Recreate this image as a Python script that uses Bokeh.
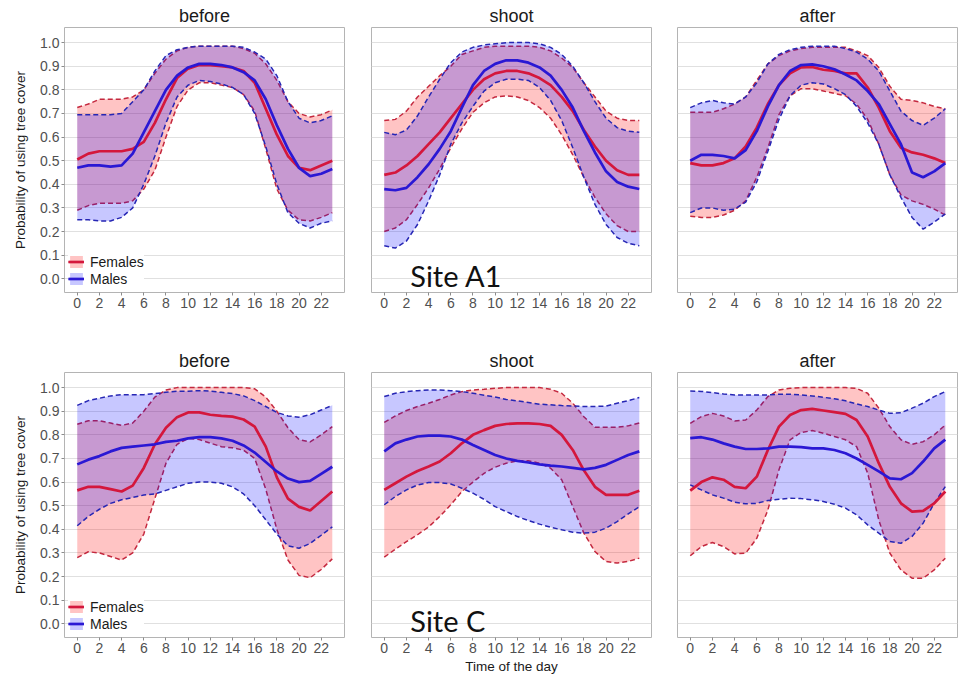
from bokeh.plotting import figure
from bokeh.layouts import column, row
from bokeh.models import Range1d, FixedTicker, PrintfTickFormatter, Legend, LegendItem, Label
from bokeh.embed import file_html
from bokeh.resources import INLINE

HOURS = list(range(24))
X_TICKS = list(range(0, 23, 2))
Y_TICKS = [0.0, 0.1, 0.2, 0.3, 0.4, 0.5, 0.6, 0.7, 0.8, 0.9, 1.0]
PERIODS = ["before", "shoot", "after"]
SITES = ["Site A1", "Site C"]
GROUPS = ["Females", "Males"]

# ---- Site A1 : before ----
A1_BEFORE_F = [0.505,0.53,0.54,0.54,0.54,0.55,0.58,0.66,0.76,0.85,0.89,0.905,0.905,0.90,0.895,0.88,0.83,0.72,0.61,0.52,0.47,0.46,0.48,0.50]
A1_BEFORE_F_LO = [0.29,0.31,0.32,0.32,0.32,0.33,0.38,0.46,0.60,0.73,0.80,0.83,0.83,0.82,0.81,0.78,0.71,0.55,0.38,0.29,0.25,0.245,0.26,0.28]
A1_BEFORE_F_HI = [0.725,0.74,0.76,0.76,0.76,0.77,0.80,0.87,0.93,0.965,0.98,0.985,0.985,0.985,0.985,0.975,0.955,0.91,0.84,0.75,0.70,0.685,0.695,0.715]
A1_BEFORE_M = [0.47,0.48,0.48,0.475,0.48,0.53,0.62,0.71,0.80,0.86,0.895,0.91,0.91,0.905,0.895,0.875,0.84,0.76,0.65,0.55,0.47,0.435,0.445,0.465]
A1_BEFORE_M_LO = [0.25,0.25,0.245,0.245,0.26,0.30,0.40,0.52,0.66,0.77,0.82,0.84,0.835,0.825,0.81,0.78,0.70,0.56,0.40,0.28,0.235,0.215,0.235,0.245]
A1_BEFORE_M_HI = [0.695,0.695,0.695,0.695,0.70,0.75,0.80,0.88,0.945,0.97,0.98,0.985,0.985,0.985,0.985,0.98,0.96,0.93,0.86,0.75,0.68,0.66,0.67,0.69]

# ---- Site A1 : shoot ----
A1_SHOOT_F = [0.44,0.45,0.48,0.52,0.57,0.62,0.68,0.74,0.80,0.845,0.87,0.88,0.88,0.87,0.85,0.82,0.77,0.71,0.63,0.56,0.50,0.46,0.44,0.44]
A1_SHOOT_F_LO = [0.20,0.215,0.25,0.315,0.385,0.465,0.555,0.635,0.705,0.745,0.77,0.775,0.77,0.755,0.725,0.68,0.61,0.525,0.43,0.345,0.275,0.225,0.20,0.20]
A1_SHOOT_F_HI = [0.67,0.675,0.71,0.77,0.815,0.86,0.90,0.95,0.965,0.98,0.985,0.985,0.985,0.985,0.98,0.965,0.935,0.895,0.83,0.77,0.71,0.68,0.67,0.67]
A1_SHOOT_M = [0.38,0.375,0.385,0.43,0.485,0.55,0.625,0.725,0.82,0.88,0.91,0.925,0.925,0.915,0.895,0.86,0.80,0.725,0.625,0.535,0.455,0.41,0.39,0.38]
A1_SHOOT_M_LO = [0.14,0.13,0.16,0.23,0.33,0.44,0.57,0.66,0.73,0.795,0.83,0.845,0.845,0.84,0.81,0.755,0.67,0.555,0.43,0.315,0.23,0.175,0.15,0.14]
A1_SHOOT_M_HI = [0.62,0.61,0.63,0.69,0.77,0.845,0.915,0.96,0.98,0.99,0.995,1.0,1.0,1.0,0.995,0.98,0.95,0.90,0.83,0.75,0.68,0.64,0.625,0.62]

# ---- Site A1 : after ----
A1_AFTER_F = [0.49,0.48,0.48,0.49,0.51,0.56,0.64,0.74,0.82,0.87,0.895,0.897,0.885,0.88,0.87,0.87,0.81,0.725,0.625,0.555,0.535,0.525,0.51,0.49]
A1_AFTER_F_LO = [0.265,0.26,0.26,0.27,0.29,0.33,0.43,0.555,0.695,0.775,0.805,0.805,0.795,0.785,0.775,0.74,0.675,0.57,0.44,0.355,0.33,0.315,0.295,0.27]
A1_AFTER_F_HI = [0.705,0.705,0.705,0.72,0.74,0.77,0.84,0.91,0.945,0.965,0.975,0.98,0.98,0.98,0.98,0.965,0.945,0.895,0.815,0.76,0.755,0.745,0.73,0.72]
A1_AFTER_M = [0.50,0.525,0.525,0.52,0.51,0.545,0.625,0.73,0.82,0.88,0.905,0.908,0.90,0.887,0.865,0.84,0.795,0.74,0.655,0.57,0.45,0.43,0.455,0.49]
A1_AFTER_M_LO = [0.28,0.30,0.30,0.29,0.295,0.325,0.41,0.54,0.675,0.775,0.82,0.83,0.825,0.805,0.78,0.73,0.66,0.57,0.44,0.345,0.26,0.21,0.24,0.275]
A1_AFTER_M_HI = [0.725,0.745,0.755,0.745,0.74,0.77,0.83,0.91,0.95,0.97,0.98,0.985,0.985,0.985,0.975,0.96,0.93,0.88,0.795,0.71,0.67,0.65,0.68,0.72]

# ---- Site C : before ----
C_BEFORE_F = [0.565,0.58,0.58,0.57,0.56,0.585,0.66,0.76,0.83,0.875,0.895,0.895,0.885,0.88,0.877,0.865,0.835,0.75,0.62,0.53,0.495,0.48,0.52,0.56]
C_BEFORE_F_LO = [0.28,0.305,0.30,0.285,0.27,0.30,0.38,0.53,0.68,0.76,0.785,0.78,0.765,0.75,0.745,0.735,0.70,0.57,0.40,0.27,0.205,0.195,0.23,0.275]
C_BEFORE_F_HI = [0.845,0.86,0.86,0.85,0.84,0.85,0.90,0.96,0.99,1.0,1.0,1.0,1.0,1.0,1.0,1.0,0.995,0.96,0.90,0.83,0.78,0.77,0.80,0.835]
C_BEFORE_M = [0.675,0.695,0.71,0.73,0.745,0.75,0.755,0.76,0.77,0.775,0.785,0.79,0.79,0.785,0.775,0.755,0.725,0.685,0.645,0.615,0.60,0.605,0.635,0.665]
C_BEFORE_M_LO = [0.415,0.455,0.485,0.51,0.525,0.535,0.545,0.55,0.565,0.58,0.595,0.60,0.60,0.595,0.58,0.55,0.50,0.44,0.38,0.33,0.32,0.34,0.375,0.41]
C_BEFORE_M_HI = [0.925,0.945,0.955,0.965,0.97,0.97,0.97,0.975,0.98,0.985,0.985,0.987,0.985,0.98,0.975,0.965,0.945,0.92,0.895,0.88,0.875,0.885,0.905,0.925]

# ---- Site C : shoot ----
C_SHOOT_F = [0.567,0.595,0.623,0.647,0.666,0.687,0.722,0.764,0.80,0.82,0.838,0.846,0.849,0.849,0.846,0.838,0.80,0.736,0.65,0.58,0.546,0.546,0.546,0.563]
C_SHOOT_F_LO = [0.282,0.316,0.348,0.377,0.41,0.454,0.504,0.56,0.60,0.637,0.663,0.68,0.69,0.69,0.68,0.659,0.61,0.496,0.384,0.306,0.264,0.257,0.264,0.278]
C_SHOOT_F_HI = [0.853,0.88,0.903,0.92,0.934,0.95,0.969,0.983,0.99,0.993,0.997,1.0,1.0,1.0,1.0,0.993,0.976,0.934,0.877,0.832,0.832,0.832,0.838,0.85]
C_SHOOT_M = [0.73,0.764,0.78,0.793,0.797,0.797,0.793,0.78,0.757,0.736,0.715,0.70,0.69,0.683,0.675,0.67,0.666,0.66,0.654,0.66,0.673,0.694,0.715,0.73]
C_SHOOT_M_LO = [0.504,0.539,0.567,0.588,0.598,0.598,0.592,0.574,0.553,0.527,0.496,0.475,0.454,0.437,0.422,0.409,0.398,0.388,0.384,0.388,0.405,0.433,0.465,0.496]
C_SHOOT_M_HI = [0.962,0.976,0.983,0.987,0.99,0.99,0.987,0.983,0.976,0.968,0.96,0.95,0.944,0.937,0.93,0.927,0.924,0.922,0.92,0.92,0.922,0.934,0.945,0.958]

# ---- Site C : after ----
C_AFTER_F = [0.564,0.60,0.62,0.61,0.58,0.574,0.623,0.736,0.835,0.884,0.905,0.91,0.903,0.896,0.889,0.863,0.793,0.68,0.58,0.51,0.475,0.478,0.51,0.56]
C_AFTER_F_LO = [0.288,0.327,0.344,0.327,0.296,0.299,0.362,0.482,0.652,0.779,0.81,0.818,0.807,0.793,0.779,0.75,0.638,0.44,0.299,0.228,0.193,0.193,0.228,0.278]
C_AFTER_F_HI = [0.849,0.877,0.891,0.88,0.859,0.863,0.905,0.962,0.99,0.997,1.0,1.0,1.0,1.0,1.0,0.997,0.976,0.913,0.835,0.779,0.76,0.771,0.80,0.842]
C_AFTER_M = [0.786,0.79,0.78,0.764,0.75,0.74,0.74,0.743,0.75,0.75,0.748,0.743,0.743,0.736,0.722,0.70,0.673,0.645,0.616,0.612,0.638,0.687,0.743,0.78]
C_AFTER_M_LO = [0.588,0.567,0.546,0.532,0.515,0.508,0.51,0.522,0.527,0.532,0.53,0.525,0.518,0.506,0.49,0.461,0.419,0.384,0.348,0.341,0.37,0.426,0.51,0.581]
C_AFTER_M_HI = [0.986,0.984,0.979,0.973,0.969,0.969,0.969,0.969,0.972,0.972,0.969,0.965,0.959,0.953,0.944,0.931,0.92,0.905,0.891,0.894,0.913,0.934,0.962,0.983]

FONT = "Liberation Sans"
F_LINE = "#d4173c"
M_LINE = "#2a18d4"
F_DASH = "#c4283e"
M_DASH = "#2626b4"
F_FILL = "#ff0000"
M_FILL = "#0000ff"


def panel(title, f, f_lo, f_hi, m, m_lo, m_hi, left, right, top, bottom,
          first=False, xlabel=None, site=None):
    p = figure(frame_width=280, frame_height=265,
               min_border_left=left, min_border_right=right,
               min_border_top=top, min_border_bottom=bottom,
               x_range=Range1d(-1.15, 24.1), y_range=Range1d(-0.058, 1.064),
               output_backend="svg", toolbar_location=None, title=title)
    p.title.align = "center"
    p.title.text_font = FONT
    p.title.text_font_size = "18px"
    p.title.text_font_style = "normal"
    p.title.text_color = "#1a1a1a"
    p.title.standoff = 3
    p.outline_line_color = "#b4b4b4"
    p.background_fill_color = "white"
    p.border_fill_color = "white"
    p.xgrid.visible = False
    p.ygrid.ticker = FixedTicker(ticks=Y_TICKS)
    p.ygrid.grid_line_color = "#e0e0e0"
    p.ygrid.grid_line_width = 1

    for ax in (p.xaxis, p.yaxis):
        ax.axis_line_color = None
        ax.major_tick_line_color = "#8c8c8c"
        ax.major_tick_out = 3
        ax.major_tick_in = 0
        ax.minor_tick_line_color = None
        ax.major_label_text_font = FONT
        ax.major_label_text_font_size = "14px"
        ax.major_label_text_color = "#505050"
        ax.major_label_standoff = 2
    p.xaxis.ticker = FixedTicker(ticks=X_TICKS)
    p.yaxis.ticker = FixedTicker(ticks=Y_TICKS)
    p.yaxis.formatter = PrintfTickFormatter(format="%.1f")

    fa = p.varea(x=HOURS, y1=f_lo, y2=f_hi, fill_color=F_FILL, fill_alpha=0.23)
    fl = p.line(HOURS, f_lo, line_color=F_DASH, line_width=1.5, line_dash="5 3")
    fh = p.line(HOURS, f_hi, line_color=F_DASH, line_width=1.5, line_dash="5 3")
    ma = p.varea(x=HOURS, y1=m_lo, y2=m_hi, fill_color=M_FILL, fill_alpha=0.22)
    ml = p.line(HOURS, m_lo, line_color=M_DASH, line_width=1.5, line_dash="5 3")
    mh = p.line(HOURS, m_hi, line_color=M_DASH, line_width=1.5, line_dash="5 3")
    fm = p.line(HOURS, f, line_color=F_LINE, line_width=2.7)
    mm = p.line(HOURS, m, line_color=M_LINE, line_width=2.7)

    if first:
        p.yaxis.axis_label = "Probability of using tree cover"
        p.yaxis.axis_label_text_font = FONT
        p.yaxis.axis_label_text_font_size = "13.5px"
        p.yaxis.axis_label_text_font_style = "normal"
        p.yaxis.axis_label_text_color = "#1a1a1a"
        p.yaxis.axis_label_standoff = 9
        legend = Legend(items=[
            LegendItem(label=GROUPS[0], renderers=[fa, fl, fm]),
            LegendItem(label=GROUPS[1], renderers=[ma, ml, mm]),
        ], location=(4, 5))
        legend.background_fill_color = "white"
        legend.background_fill_alpha = 1.0
        legend.border_line_color = None
        legend.padding = 4
        legend.margin = 0
        legend.spacing = 0
        legend.label_text_font = FONT
        legend.label_text_font_size = "14px"
        legend.label_text_color = "#1a1a1a"
        legend.glyph_width = 16
        legend.glyph_height = 15
        legend.label_height = 17
        legend.label_standoff = 6
        p.add_layout(legend)
    else:
        p.yaxis.visible = False

    if xlabel:
        p.xaxis.axis_label = xlabel
        p.xaxis.axis_label_text_font = FONT
        p.xaxis.axis_label_text_font_size = "13.5px"
        p.xaxis.axis_label_text_font_style = "normal"
        p.xaxis.axis_label_text_color = "#1a1a1a"
        p.xaxis.axis_label_standoff = 3

    if site:
        p.add_layout(Label(x=2.35, y=0.012, text=site, text_font="Lato",
                           text_font_size="29px", text_color="#111111",
                           text_baseline="alphabetic"))
    return p


p1 = panel(PERIODS[0], A1_BEFORE_F, A1_BEFORE_F_LO, A1_BEFORE_F_HI,
           A1_BEFORE_M, A1_BEFORE_M_LO, A1_BEFORE_M_HI, 64, 13, 27, 40, first=True)
p2 = panel(PERIODS[1], A1_SHOOT_F, A1_SHOOT_F_LO, A1_SHOOT_F_HI,
           A1_SHOOT_M, A1_SHOOT_M_LO, A1_SHOOT_M_HI, 14, 13, 27, 40, site=SITES[0])
p3 = panel(PERIODS[2], A1_AFTER_F, A1_AFTER_F_LO, A1_AFTER_F_HI,
           A1_AFTER_M, A1_AFTER_M_LO, A1_AFTER_M_HI, 13, 1, 27, 40)
p4 = panel(PERIODS[0], C_BEFORE_F, C_BEFORE_F_LO, C_BEFORE_F_HI,
           C_BEFORE_M, C_BEFORE_M_LO, C_BEFORE_M_HI, 64, 13, 40, 43, first=True)
p5 = panel(PERIODS[1], C_SHOOT_F, C_SHOOT_F_LO, C_SHOOT_F_HI,
           C_SHOOT_M, C_SHOOT_M_LO, C_SHOOT_M_HI, 14, 13, 40, 43,
           xlabel="Time of the day", site=SITES[1])
p6 = panel(PERIODS[2], C_AFTER_F, C_AFTER_F_LO, C_AFTER_F_HI,
           C_AFTER_M, C_AFTER_M_LO, C_AFTER_M_HI, 13, 1, 40, 43)

layout = column(row(p1, p2, p3, spacing=0), row(p4, p5, p6, spacing=0), spacing=0)

with open("out.html", "w") as fh_:
    fh_.write(file_html(layout, INLINE))
